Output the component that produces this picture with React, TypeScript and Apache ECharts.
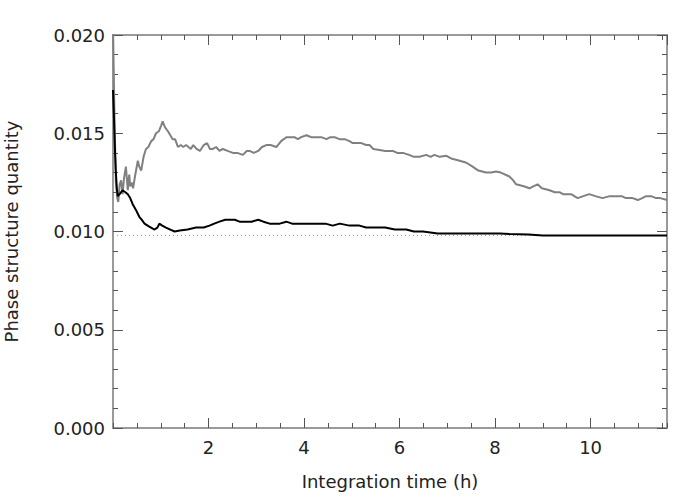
import React, { useEffect, useRef } from "react";
import * as echarts from "echarts";

const greyT = [0.0, 0.03, 0.06, 0.09, 0.11, 0.14, 0.17, 0.2, 0.23, 0.27, 0.31, 0.34, 0.36, 0.39, 0.42, 0.46, 0.52, 0.55, 0.59, 0.64, 0.69, 0.74, 0.8, 0.85, 0.9, 0.96, 1.01, 1.04, 1.09, 1.15, 1.2, 1.25, 1.3, 1.36, 1.42, 1.47, 1.53, 1.63, 1.68, 1.75, 1.82, 1.9, 1.97, 2.03, 2.09, 2.16, 2.23, 2.3, 2.4, 2.51, 2.6, 2.72, 2.8, 2.86, 2.95, 3.04, 3.12, 3.21, 3.3, 3.42, 3.52, 3.63, 3.72, 3.8, 3.87, 3.94, 4.05, 4.15, 4.26, 4.36, 4.47, 4.55, 4.64, 4.74, 4.85, 4.95, 5.02, 5.1, 5.2, 5.3, 5.37, 5.45, 5.58, 5.7, 5.86, 5.95, 6.07, 6.2, 6.3, 6.42, 6.56, 6.65, 6.73, 6.84, 6.98, 7.1, 7.26, 7.4, 7.53, 7.65, 7.81, 7.92, 8.02, 8.12, 8.3, 8.38, 8.44, 8.6, 8.72, 8.8, 8.89, 8.98, 9.14, 9.25, 9.35, 9.42, 9.5, 9.59, 9.73, 9.85, 9.97, 10.1, 10.25, 10.4, 10.53, 10.65, 10.74, 10.88, 10.99, 11.08, 11.16, 11.27, 11.37, 11.46, 11.6];
const greyV = [0.0205, 0.016, 0.0125, 0.0117, 0.0115, 0.0124, 0.0126, 0.0119, 0.0127, 0.0133, 0.0121, 0.0129, 0.0123, 0.0125, 0.0122, 0.0128, 0.0136, 0.0133, 0.0131, 0.0138, 0.0142, 0.0143, 0.0146, 0.0147, 0.015, 0.0151, 0.0154, 0.0156, 0.0153, 0.0151, 0.0149, 0.0147, 0.0147, 0.0143, 0.0144, 0.0143, 0.0144, 0.0142, 0.0144, 0.0142, 0.0141, 0.0144, 0.0145, 0.0142, 0.0142, 0.0143, 0.0141, 0.0142, 0.0141, 0.014, 0.014, 0.0139, 0.0141, 0.0141, 0.014, 0.0141, 0.0143, 0.0144, 0.0144, 0.0143, 0.0146, 0.0148, 0.0148, 0.0148, 0.0147, 0.0148, 0.0149, 0.0148, 0.0148, 0.0148, 0.0147, 0.0148, 0.0148, 0.0147, 0.0147, 0.0146, 0.0145, 0.0145, 0.0145, 0.0144, 0.0144, 0.0142, 0.01415, 0.0141, 0.0141, 0.014, 0.014, 0.0139, 0.0138, 0.0138, 0.0139, 0.0138, 0.0139, 0.0138, 0.01385, 0.0137, 0.0136, 0.0135, 0.0133, 0.0131, 0.013, 0.013, 0.01305, 0.013, 0.0128, 0.0126, 0.0124, 0.0123, 0.0122, 0.0123, 0.0124, 0.0122, 0.0121, 0.012, 0.012, 0.0119, 0.0119, 0.0119, 0.0117, 0.0118, 0.0119, 0.0118, 0.0117, 0.0118, 0.0118, 0.0118, 0.0117, 0.0117, 0.0116, 0.0117, 0.0118, 0.0118, 0.0117, 0.0117, 0.0116];

const blackT = [0.0, 0.02, 0.04, 0.06, 0.08, 0.1, 0.14, 0.2, 0.26, 0.31, 0.36, 0.41, 0.48, 0.55, 0.6, 0.66, 0.76, 0.87, 0.93, 0.97, 1.03, 1.11, 1.2, 1.29, 1.4, 1.56, 1.74, 1.9, 2.02, 2.12, 2.23, 2.35, 2.45, 2.55, 2.65, 2.79, 2.9, 3.04, 3.15, 3.28, 3.4, 3.49, 3.63, 3.75, 3.9, 4.05, 4.2, 4.33, 4.45, 4.6, 4.75, 4.95, 5.16, 5.3, 5.44, 5.7, 5.9, 6.14, 6.3, 6.49, 6.8, 7.19, 7.5, 7.88, 8.1, 8.3, 8.7, 9.0, 9.4, 10.0, 10.5, 11.0, 11.6];
const blackV = [0.0172, 0.0158, 0.0142, 0.013, 0.0122, 0.0118, 0.0119, 0.0121, 0.012, 0.0119, 0.0117, 0.0114, 0.0111, 0.01075, 0.0106, 0.0104, 0.01025, 0.0101, 0.0102, 0.0104, 0.0103, 0.0102, 0.0101, 0.01, 0.01005, 0.0101, 0.0102, 0.0102, 0.0103, 0.0104, 0.0105, 0.0106, 0.0106, 0.0106, 0.0105, 0.0105, 0.0105, 0.0106, 0.0105, 0.0104, 0.0104, 0.0104, 0.0105, 0.0104, 0.0104, 0.0104, 0.0104, 0.0104, 0.0104, 0.0103, 0.0104, 0.0103, 0.0103, 0.0102, 0.0102, 0.0102, 0.0101, 0.0101, 0.01, 0.01, 0.0099, 0.0099, 0.0099, 0.0099, 0.0099, 0.00987, 0.00985, 0.0098, 0.0098, 0.0098, 0.0098, 0.0098, 0.0098];

const referenceLevel = 0.0098;
const xTitle = "Integration time (h)";
const yTitle = "Phase structure quantity";

const FONT = "DejaVu Sans";
const AXIS_COLOR = "#9a9a9a";
const TEXT_COLOR = "#222";

export default function App() {
  const ref = useRef<HTMLDivElement>(null);
  useEffect(() => {
    if (!ref.current) return;
    const chart = echarts.init(ref.current, undefined, { renderer: "svg" });
    const xMin = 0;
    const xMax = 11.6;
    const baseX = (position: string, interval: number, tickLen: number, labels: boolean, name?: string) => ({
      type: "value",
      position,
      min: xMin,
      max: xMax,
      interval,
      name,
      nameLocation: "middle",
      nameGap: 44,
      nameTextStyle: { fontFamily: FONT, fontSize: 18, color: TEXT_COLOR },
      axisLine: { show: true, onZero: false, lineStyle: { color: AXIS_COLOR, width: 2 } },
      axisTick: { show: true, inside: true, length: tickLen, lineStyle: { color: "#555", width: 1 } },
      axisLabel: {
        show: labels,
        margin: 10,
        fontFamily: FONT,
        fontSize: 18,
        color: TEXT_COLOR,
        showMinLabel: false,
        showMaxLabel: false,
      },
      splitLine: { show: false },
    });
    const baseY = (position: string, interval: number, tickLen: number, labels: boolean, name?: string) => ({
      type: "value",
      position,
      min: 0,
      max: 0.02,
      interval,
      name,
      nameLocation: "middle",
      nameRotate: 90,
      nameGap: 93,
      nameTextStyle: { fontFamily: FONT, fontSize: 18, color: TEXT_COLOR },
      axisLine: { show: true, onZero: false, lineStyle: { color: AXIS_COLOR, width: 2 } },
      axisTick: { show: true, inside: true, length: tickLen, lineStyle: { color: "#555", width: 1 } },
      axisLabel: {
        show: labels,
        margin: 8,
        fontFamily: FONT,
        fontSize: 18,
        color: TEXT_COLOR,
        formatter: (v: number) => v.toFixed(3),
      },
      splitLine: { show: false },
    });

    chart.setOption({
      animation: false,
      backgroundColor: "#fff",
      grid: { left: 113, right: 33, top: 35, bottom: 72, containLabel: false, outerBoundsMode: "none" },
      xAxis: [
        baseX("bottom", 2, 10, true, xTitle),
        baseX("bottom", 0.5, 5, false),
        baseX("top", 2, 10, false),
        baseX("top", 0.5, 5, false),
      ],
      yAxis: [
        baseY("left", 0.005, 10, true, yTitle),
        baseY("left", 0.001, 5, false),
        baseY("right", 0.005, 10, false),
        baseY("right", 0.001, 5, false),
      ],
      series: [
        {
          type: "line",
          name: "reference",
          data: [[xMin, referenceLevel], [xMax, referenceLevel]],
          showSymbol: false,
          lineStyle: { color: "#999", width: 1, type: [1, 3] },
          z: 1,
        },
        {
          type: "line",
          name: "grey",
          data: greyT.map((t, i) => [t, greyV[i]]),
          showSymbol: false,
          clip: true,
          lineStyle: { color: "#808080", width: 2 },
          z: 2,
        },
        {
          type: "line",
          name: "black",
          data: blackT.map((t, i) => [t, blackV[i]]),
          showSymbol: false,
          clip: true,
          lineStyle: { color: "#000", width: 2 },
          z: 3,
        },
      ],
    });
    return () => chart.dispose();
  }, []);
  return (
    <div
      ref={ref}
      style={{ position: "fixed", left: 0, top: 0, width: 700, height: 500, background: "#fff" }}
    />
  );
}
